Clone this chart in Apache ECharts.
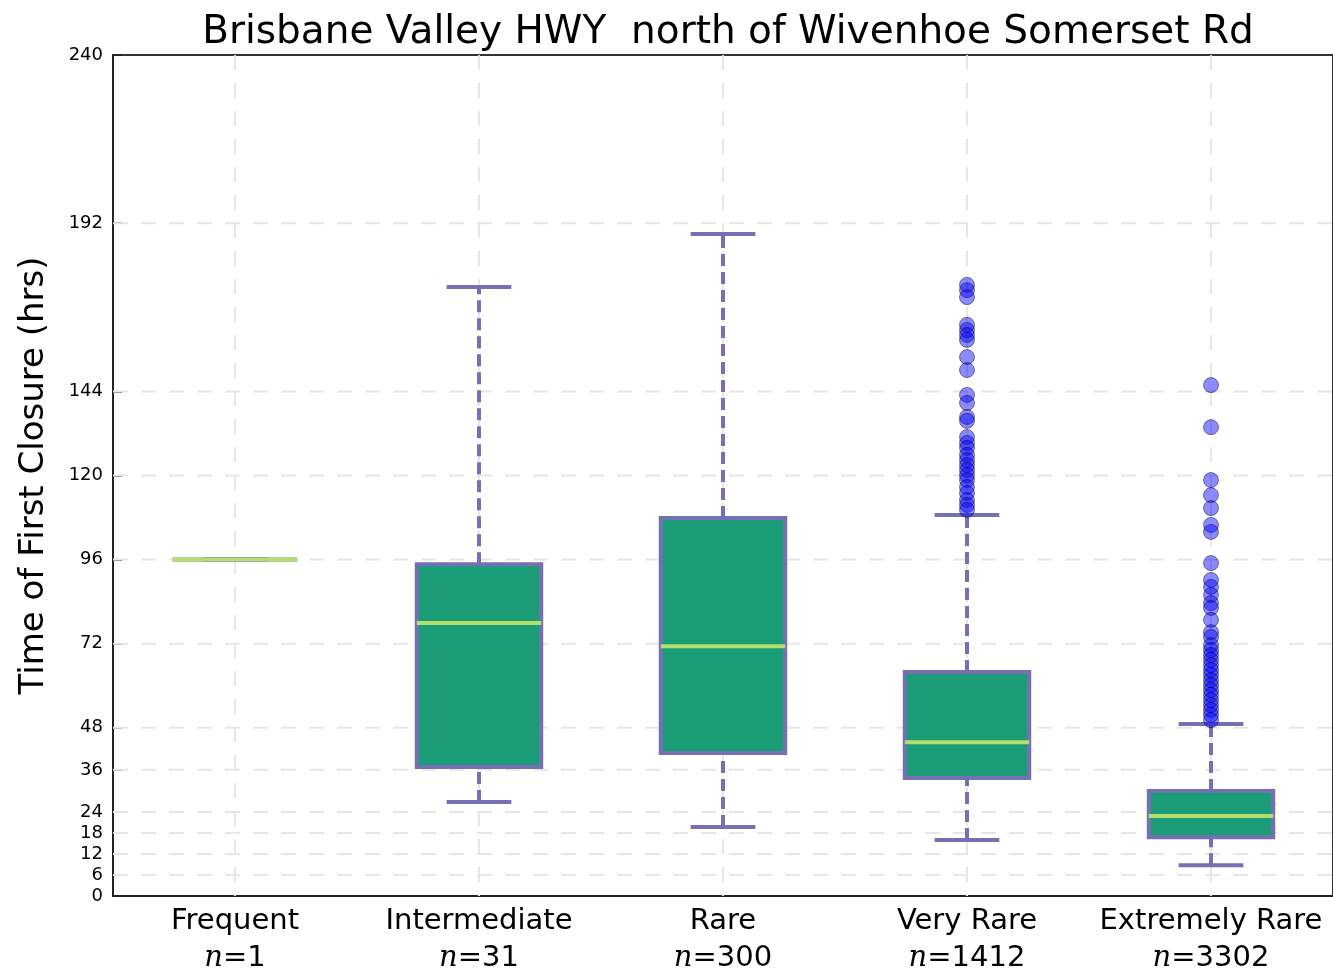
<!DOCTYPE html>
<html>
<head>
<meta charset="utf-8">
<script src="https://cdn.jsdelivr.net/npm/echarts@6/dist/echarts.min.js"></script>
<style>
  html, body { margin: 0; padding: 0; background: #fff; }
  #chart { width: 1333px; height: 977px; }
</style>
</head>
<body>
<div id="chart"></div>
<script>
// categories and sample counts
const categories = ['Frequent', 'Intermediate', 'Rare', 'Very Rare', 'Extremely Rare'];
const counts = [1, 31, 300, 1412, 3302];

// box stats: [min whisker, Q1, median, Q3, max whisker]
const boxStats = [
    [96, 96, 96, 96, 96],
    [26.8, 36.8, 77.9, 94.7, 173.8],
    [19.7, 40.8, 71.3, 107.9, 188.9],
    [16.0, 33.7, 43.9, 63.9, 108.7],
    [8.8, 16.8, 22.8, 30.0, 49.1]
];

// outliers (fliers)
const veryRareOutliers = [174.4, 172.9, 170.9, 163.0, 161.5, 160.1, 158.7, 153.8, 150.1,
    143.0, 140.7, 136.7, 135.6, 131.0, 129.3, 127.9, 125.9, 124.4, 123.0, 121.6, 120.1,
    118.7, 116.7, 115.0, 113.0, 111.6, 110.2];
const extremelyRareOutliers = [145.8, 133.8, 118.7, 114.4, 110.7, 105.9, 103.9, 95.0, 90.2,
    88.2, 85.9, 83.6, 82.2, 78.8, 75.3, 73.9, 71.6, 70.2, 68.8, 67.4, 65.9, 64.5, 63.1,
    61.6, 60.2, 58.8, 57.4, 55.9, 54.5, 53.1, 51.7, 50.2];

// y tick labels
const yTicks = [0, 6, 12, 18, 24, 36, 48, 72, 96, 120, 144, 192, 240];

const boxColor = '#1b9e77';
const edgeColor = '#7570b3';
const medianColor = '#b2df6e';
const gridColor = '#e6e6e6';

const chart = echarts.init(document.getElementById('chart'));

const boxData = boxStats.map((s, i) => [i].concat(s));
const outlierData = veryRareOutliers.map(v => [3, v]).concat(extremelyRareOutliers.map(v => [4, v]));

// dashed grid behind the boxes (skip the frame edges)
function renderGrid(params, api) {
    const children = [];
    const gridStyle = { stroke: gridColor, lineWidth: 2, lineDash: [15, 13] };
    const x0 = params.coordSys.x, x1 = x0 + params.coordSys.width;
    const y0 = params.coordSys.y, y1 = y0 + params.coordSys.height;
    yTicks.forEach(t => {
        if (t <= 0 || t >= 240) return;
        const y = api.coord([0, t])[1];
        children.push({ type: 'line', shape: { x1: x0, y1: y, x2: x1, y2: y }, style: gridStyle });
    });
    categories.forEach((c, i) => {
        const x = api.coord([i, 0])[0];
        children.push({ type: 'line', shape: { x1: x, y1: y0, x2: x, y2: y1 }, style: gridStyle });
    });
    return { type: 'group', children: children };
}

function renderBox(params, api) {
    const x = api.value(0);
    const pMin = api.coord([x, api.value(1)]);
    const pQ1 = api.coord([x, api.value(2)]);
    const pMed = api.coord([x, api.value(3)]);
    const pQ3 = api.coord([x, api.value(4)]);
    const pMax = api.coord([x, api.value(5)]);
    const band = api.size([1, 0])[0];
    const bw = band * 0.51;
    const cw = band * 0.265;
    const cx = pMed[0];
    const dashStyle = { stroke: edgeColor, lineWidth: 4, lineDash: [12, 6] };
    const solid = { stroke: edgeColor, lineWidth: 4 };
    return {
        type: 'group',
        children: [
            { type: 'line', shape: { x1: cx, y1: pQ3[1], x2: cx, y2: pMax[1] }, style: dashStyle },
            { type: 'line', shape: { x1: cx, y1: pMin[1], x2: cx, y2: pQ1[1] }, style: dashStyle },
            { type: 'line', shape: { x1: cx - cw / 2, y1: pMax[1], x2: cx + cw / 2, y2: pMax[1] }, style: solid },
            { type: 'line', shape: { x1: cx - cw / 2, y1: pMin[1], x2: cx + cw / 2, y2: pMin[1] }, style: solid },
            { type: 'rect', shape: { x: cx - bw / 2, y: pQ3[1], width: bw, height: pQ1[1] - pQ3[1] },
              style: { fill: boxColor, stroke: edgeColor, lineWidth: 4 } },
            { type: 'line', shape: { x1: cx - bw / 2, y1: pMed[1], x2: cx + bw / 2, y2: pMed[1] },
              style: { stroke: medianColor, lineWidth: 4 } }
        ]
    };
}

const option = {
    backgroundColor: '#fff',
    animation: false,
    textStyle: { fontFamily: 'DejaVu Sans' },
    title: {
        text: 'Brisbane Valley HWY  north of Wivenhoe Somerset Rd',
        left: 723,
        textAlign: 'center',
        top: 8,
        textStyle: { fontFamily: 'DejaVu Sans', fontSize: 39, fontWeight: 'normal', color: '#000' }
    },
    grid: {
        left: 113, right: 0, top: 55, bottom: 81,
        show: true, borderColor: '#333', borderWidth: 2, backgroundColor: '#fff'
    },
    xAxis: {
        type: 'category',
        data: categories,
        axisLine: { lineStyle: { color: '#222', width: 2 } },
        axisTick: { alignWithLabel: true, inside: true, length: 9, lineStyle: { color: '#222', width: 1.5 } },
        axisLabel: {
            interval: 0,
            margin: 7,
            color: '#000',
            fontSize: 29,
            lineHeight: 37,
            formatter: (v, i) => v + '\n{i|n}{r|=' + counts[i] + '}',
            rich: {
                i: { fontFamily: 'DejaVu Serif', fontStyle: 'italic', fontSize: 29, lineHeight: 37, color: '#000' },
                r: { fontFamily: 'DejaVu Sans', fontSize: 29, lineHeight: 37, color: '#000' }
            }
        },
        splitLine: { show: false }
    },
    yAxis: {
        type: 'value',
        min: 0,
        max: 240,
        name: 'Time of First Closure (hrs)',
        nameLocation: 'middle',
        nameGap: 62,
        nameTextStyle: { fontFamily: 'DejaVu Sans', fontSize: 34, color: '#000' },
        axisLine: { show: true, lineStyle: { color: '#222', width: 2 } },
        axisTick: { show: true, inside: true, length: 9, customValues: yTicks, lineStyle: { color: '#222', width: 1.5 } },
        axisLabel: { customValues: yTicks, fontSize: 18, color: '#000', margin: 10 },
        splitLine: { show: false }
    },
    series: [
        {
            type: 'custom',
            z: 1,
            silent: true,
            renderItem: renderGrid,
            data: [[0, 0]]
        },
        {
            type: 'custom',
            z: 2,
            renderItem: renderBox,
            encode: { x: 0, y: [1, 2, 3, 4, 5] },
            data: boxData
        },
        {
            type: 'scatter',
            z: 3,
            symbolSize: 15,
            itemStyle: { color: 'rgba(0,0,255,0.57)', borderColor: 'rgba(0,0,0,0.55)', borderWidth: 1 },
            data: outlierData
        }
    ]
};

chart.setOption(option);
</script>
</body>
</html>
